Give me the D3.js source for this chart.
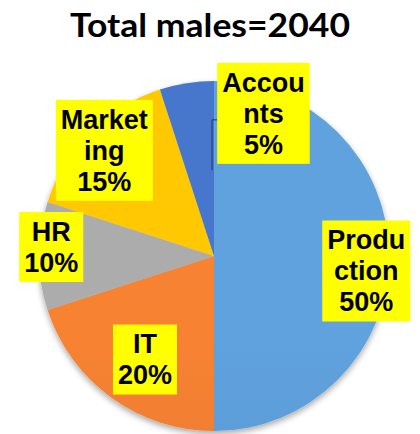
<!DOCTYPE html>
<html>
<head>
<meta charset="utf-8">
<script src="https://cdn.jsdelivr.net/npm/d3@7"></script>
<style>
  html, body { margin: 0; padding: 0; background: #fff; }
  svg { display: block; }
</style>
</head>
<body>
<div id="chart"></div>
<script>
// chart data
var title = "Total males=2040";
var departments = ["Production", "IT", "HR", "Marketing", "Accounts"];
var shares = [50, 20, 10, 15, 5];
// label text as wrapped in the original boxes
var labelLines = [["Produ", "ction"], ["IT"], ["HR"], ["Market", "ing"], ["Accou", "nts"]];
var colors = ["#5b9bd5", "#ed7d31", "#a5a5a5", "#ffc000", "#4472c4"];

var width = 420, height = 434;
var cx = 214, cy = 256, radius = 175;

// where each label box sits: radius factor along the slice middle + small nudge
var labelLayout = {
	"Production": { k: 0.87, dx: 0, dy: 15 },
	"IT":         { k: 0.71, dx: 4, dy: 3 },
	"HR":         { k: 0.93, dx: 0, dy: -9 },
	"Marketing":  { k: 0.87, dx: -2, dy: 2 },
	"Accounts":   { k: 0.86, dx: 73, dy: 6 }
};

var svg = d3.select("#chart").append("svg")
	.attr("width", width)
	.attr("height", height);

var defs = svg.append("defs");

// soft shadow under the pie
var shadow = defs.append("filter").attr("id", "shadow")
	.attr("x", "-20%").attr("y", "-20%").attr("width", "140%").attr("height", "140%");
shadow.append("feGaussianBlur").attr("in", "SourceAlpha").attr("stdDeviation", 3);
shadow.append("feOffset").attr("dx", 0).attr("dy", 3).attr("result", "blur");
shadow.append("feComponentTransfer").append("feFuncA").attr("type", "linear").attr("slope", 0.35);
var merge = shadow.append("feMerge");
merge.append("feMergeNode");
merge.append("feMergeNode").attr("in", "SourceGraphic");

// vertical gradient per slice, a bit lighter on top
colors.forEach(function(c, i) {
	var g = defs.append("linearGradient")
		.attr("id", "grad" + i)
		.attr("gradientUnits", "userSpaceOnUse")
		.attr("x1", 0).attr("y1", cy - radius)
		.attr("x2", 0).attr("y2", cy + radius);
	g.append("stop").attr("offset", "0%").attr("stop-color", d3.color(c).brighter(0.12));
	g.append("stop").attr("offset", "100%").attr("stop-color", d3.color(c).darker(0.15));
});

svg.append("text")
	.attr("x", width / 2)
	.attr("y", 37)
	.attr("text-anchor", "middle")
	.attr("font-family", "Lato, 'Open Sans', sans-serif")
	.attr("font-weight", "bold")
	.attr("font-size", 33)
	.attr("textLength", 280)
	.attr("lengthAdjust", "spacingAndGlyphs")
	.attr("fill", "#000")
	.text(title);

var pie = d3.pie().sort(null).value(function(d) { return d; });
var arcs = pie(shares);

var arc = d3.arc().innerRadius(0).outerRadius(radius);

var g = svg.append("g")
	.attr("transform", "translate(" + cx + "," + cy + ")");

g.append("g").attr("filter", "url(#shadow)")
	.selectAll("path")
	.data(arcs).enter().append("path")
	.attr("d", arc)
	.attr("fill", function(d, i) { return "url(#grad" + i + ")"; });

var leader = g.append("path")
	.attr("fill", "none")
	.attr("stroke", "#1f3864")
	.attr("stroke-width", 1);

var fontSize = 27, lineH = 31, pad = 5;

function labelPos(d, i) {
	var lay = labelLayout[departments[i]];
	var la = d3.arc().innerRadius(radius * lay.k).outerRadius(radius * lay.k);
	var c = la.centroid(d);
	return [c[0] + lay.dx, c[1] + lay.dy];
}

var labels = g.selectAll(".lbl")
	.data(arcs).enter().append("g")
	.attr("class", "lbl")
	.attr("transform", function(d, i) { return "translate(" + labelPos(d, i) + ")"; });

labels.each(function(d, i) {
	var sel = d3.select(this);
	var lines = labelLines[i].concat([shares[i] + "%"]);
	var rect = sel.append("rect").attr("fill", "#ffff00");
	var t = sel.append("text")
		.attr("text-anchor", "middle")
		.attr("font-family", "'Liberation Sans', Arial, sans-serif")
		.attr("font-weight", "bold")
		.attr("font-size", fontSize)
		.attr("fill", "#000");
	var top = -lines.length * lineH / 2;
	lines.forEach(function(l, j) {
		t.append("tspan")
			.attr("x", 0)
			.attr("y", top + j * lineH + lineH * 0.8)
			.text(l);
	});
	var bb = t.node().getBBox();
	rect.attr("x", bb.x - pad)
		.attr("y", top - pad + 1)
		.attr("width", bb.width + pad * 2)
		.attr("height", lines.length * lineH + pad * 2 - 2);
	d.box = { x: bb.x - pad, y: top - pad + 1 };
});

// Accounts leader: from box left edge down into the slice
var acc = arcs[4];
var ap = labelPos(acc, 4);
var bx = ap[0] + acc.box.x, by = ap[1] + acc.box.y;
leader.attr("d", d3.line()([[bx, by + 57], [-2, by + 57], [-2, -radius * 0.49]]));
</script>
</body>
</html>
